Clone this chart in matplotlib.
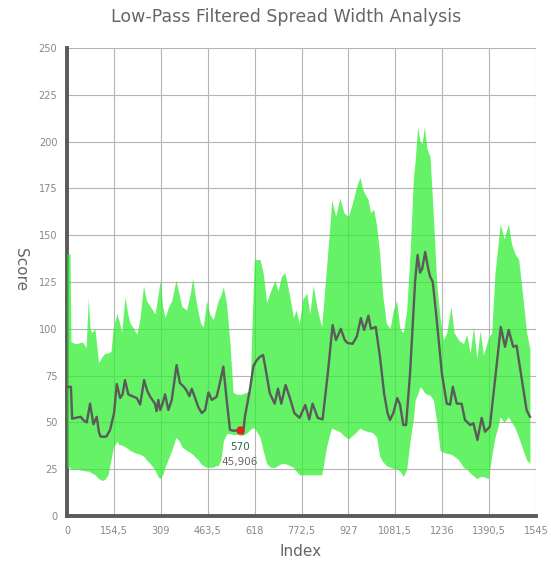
import numpy as np
import matplotlib
matplotlib.use("Agg")
import matplotlib.pyplot as plt

# Banda (indice, limite superior, limite inferior)
banda_idx = [0, 10, 13, 30, 50, 63, 70, 76, 82, 92, 104, 115, 125, 135, 145, 152,
             164, 172, 180, 191, 200, 208, 220, 230, 240, 252, 262, 274, 290, 300,
             307, 315, 323, 335, 345, 359, 370, 378, 394, 405, 414, 425, 433, 440,
             449, 460, 470, 482, 490, 498, 507, 515, 526, 537, 547, 560, 575, 590,
             603, 609, 617, 625, 636, 646, 658, 670, 685, 695, 706, 718, 733, 746,
             755, 765, 777, 790, 800, 811, 825, 839, 848, 855, 866, 872, 885, 899,
             912, 927, 940, 954, 965, 975, 992, 1000, 1010, 1020, 1030, 1040, 1052,
             1064, 1075, 1086, 1097, 1108, 1119, 1130, 1141, 1147, 1155, 1163, 1170,
             1177, 1186, 1196, 1207, 1218, 1229, 1240, 1251, 1265, 1275, 1290, 1306,
             1317, 1328, 1339, 1350, 1361, 1372, 1388, 1399, 1410, 1420, 1427, 1440,
             1454, 1465, 1476, 1488, 1503, 1514, 1525]
banda_sup = [140, 140, 93, 92, 93, 90, 116, 100, 98, 100, 82, 85, 87, 87, 88, 100,
             108, 104, 98, 117, 108, 103, 100, 97, 105, 123, 115, 112, 108, 118,
             126, 112, 106, 112, 115, 126, 118, 112, 110, 118, 127, 115, 108, 103,
             101, 115, 108, 105, 110, 115, 118, 122.5, 113, 92, 66, 65, 65, 66,
             67, 100, 137, 137, 137, 130, 114, 120, 126, 120, 128, 130, 118, 106,
             110, 103, 116, 119, 108, 123, 110, 101, 119, 133, 155, 169, 160, 170,
             162, 160, 167, 176, 181, 174, 169, 162, 164, 155, 140, 118, 103,
             100, 110, 115, 100, 98, 110, 140, 180, 190, 208, 200, 199,
             208, 196, 192, 160, 124, 106, 94, 98, 112, 98, 94, 92,
             97, 87, 101, 84, 99, 86, 95, 98, 130, 145, 156, 148,
             156, 145, 140, 137, 115, 98, 89]
banda_inf = [26, 26, 25, 25, 24.5, 24, 24, 23.5, 23, 22, 20, 19, 19.5, 22, 30, 36,
             40, 38, 38, 37, 36, 35, 34, 33.5, 33, 32, 30, 28, 24.5, 21,
             20, 22, 26, 31, 35, 42, 40, 37, 35, 34, 33, 31, 30, 28,
             27, 26, 26, 26, 27, 27, 30, 40, 44, 44, 43.5, 43.5, 43, 44,
             46, 47, 47, 45, 42, 35, 28, 26, 26, 27, 28, 28, 27, 26,
             24, 22, 22, 22, 22, 22, 22, 22, 30, 37, 44, 47, 46, 45,
             43, 41, 43, 45, 47, 46, 45, 45, 44, 42, 32, 29, 27,
             26, 25.5, 25, 24, 21, 25, 40, 52, 62, 65, 69, 68,
             66, 65, 64.5, 62, 50, 35, 34, 33.5, 33, 32, 30, 26,
             25, 23, 21.5, 20, 21, 21, 20, 32, 42, 48, 53, 50,
             53, 50, 47, 42, 35, 30, 28]

# Curva filtrada (pasa bajos)
linea_idx = [0, 13, 17, 30, 45, 55, 65, 76, 87, 98, 105, 110, 120, 130, 142, 155,
             164, 175, 183, 191, 202, 215, 230, 241, 254, 264, 274, 290, 295, 301,
             307, 315, 323, 334, 345, 361, 372, 385, 394, 403, 411, 422, 433, 444,
             455, 466, 477, 493, 505, 515, 526, 537, 550, 570, 580, 586, 602, 614,
             624, 635, 646, 657, 668, 684, 695, 706, 720, 733, 749, 766, 785, 798,
             809, 826, 842, 859, 875, 886, 902, 915, 924, 941, 955, 968, 979, 993,
             1001, 1017, 1031, 1045, 1056, 1064, 1075, 1088, 1097, 1108, 1117, 1130,
             1147, 1155, 1163, 1170, 1180, 1190, 1196, 1205, 1218, 1235, 1251, 1262,
             1271, 1284, 1300, 1311, 1328, 1339, 1352, 1366, 1377, 1393, 1410, 1429,
             1443, 1455, 1470, 1481, 1497, 1514, 1525]
linea_val = [69, 69, 52, 52.5, 53, 51, 50, 60, 49, 53, 45, 42.5, 42.3, 42.5, 46, 55,
             70.5, 63, 65, 72.6, 65, 64, 63, 59.5, 72.6, 67, 63.7, 60, 56, 62,
             56.6, 60, 65, 56.6, 62, 80.6, 71, 69, 67, 64, 68, 63, 58, 55,
             56.6, 66, 62, 63.7, 72, 79.8, 62, 46, 45.5, 45.906, 44, 53, 67, 80,
             83, 85, 86, 76, 65.6, 60, 68, 60, 70, 63.7, 55, 52.4, 59.3, 51.6,
             60, 52.4, 51.6, 76, 102, 94, 100, 94, 92.4, 92, 96, 105.7, 99.4, 107,
             100, 101, 85, 65, 55, 51.3, 55, 63, 59.5, 48.6, 48.6, 76,
             126, 139.4, 130, 132, 141, 132, 128, 125, 104.7, 76, 60, 59.5,
             69, 60, 60, 51.3, 48.6, 49.5, 40.6, 52.4, 45, 47.7, 72.6, 101,
             90.4, 99.4, 90.4, 91, 74.4, 56.6, 53]

# Punto marcado
punto_x = 570
punto_y = 45.906

x_ticks = [0, 154.5, 309, 463.5, 618, 772.5, 927, 1081.5, 1236, 1390.5, 1545]
x_etiquetas = ["0", "154,5", "309", "463,5", "618", "772,5", "927", "1081,5",
               "1236", "1390,5", "1545"]
y_ticks = [0, 25, 50, 75, 100, 125, 150, 175, 200, 225, 250]

fig = plt.figure(figsize=(5.51, 5.64), dpi=100)
ax = fig.add_axes([67 / 551, 48 / 564, 469 / 551, 468 / 564])

# Banda verde
ax.fill_between(banda_idx, banda_inf, banda_sup, color="#33ee33", alpha=0.75,
                linewidth=0, zorder=3)

# Curva gris
ax.plot(linea_idx, linea_val, color="#5a5a5a", linewidth=1.7, zorder=4)

# Punto rojo y sus etiquetas
ax.plot(punto_x, punto_y, "o", color="#e0241b", markersize=5, zorder=5)
ax.annotate(str(punto_x), (punto_x, punto_y), xytext=(0, -17),
            textcoords="offset pixels", ha="center", va="center",
            fontsize=7.5, color="#2e6b4e", zorder=6)
ax.annotate(f"{punto_y:.3f}".replace(".", ","), (punto_x, punto_y),
            xytext=(0, -32), textcoords="offset pixels", ha="center",
            va="center", fontsize=7.5, color="#666666", zorder=6)

# Ejes
ax.set_xlim(0, 1545)
ax.set_ylim(0, 250)
ax.set_xticks(x_ticks)
ax.set_xticklabels(x_etiquetas)
ax.set_yticks(y_ticks)
ax.tick_params(length=0, labelsize=7, labelcolor="#888888", pad=7)
ax.grid(True, color="#b5b5b5", linewidth=0.8)
ax.set_axisbelow(True)
for lado in ["top", "right"]:
    ax.spines[lado].set_visible(False)
for lado in ["left", "bottom"]:
    ax.spines[lado].set_color("#5a5a5a")
    ax.spines[lado].set_linewidth(2.8)
    ax.spines[lado].set_zorder(2)

fig.text(286 / 551, 1 - 17 / 564, "Low-Pass Filtered Spread Width Analysis",
         ha="center", va="center", fontsize=12.5, color="#666666")
fig.text(20 / 551, 1 - 270 / 564, "Score", rotation=270, ha="center",
         va="center", fontsize=11, color="#666666")
fig.text(301 / 551, 1 - 552 / 564, "Index", ha="center", va="center",
         fontsize=11, color="#666666")

fig.savefig("out.png", dpi=100)
